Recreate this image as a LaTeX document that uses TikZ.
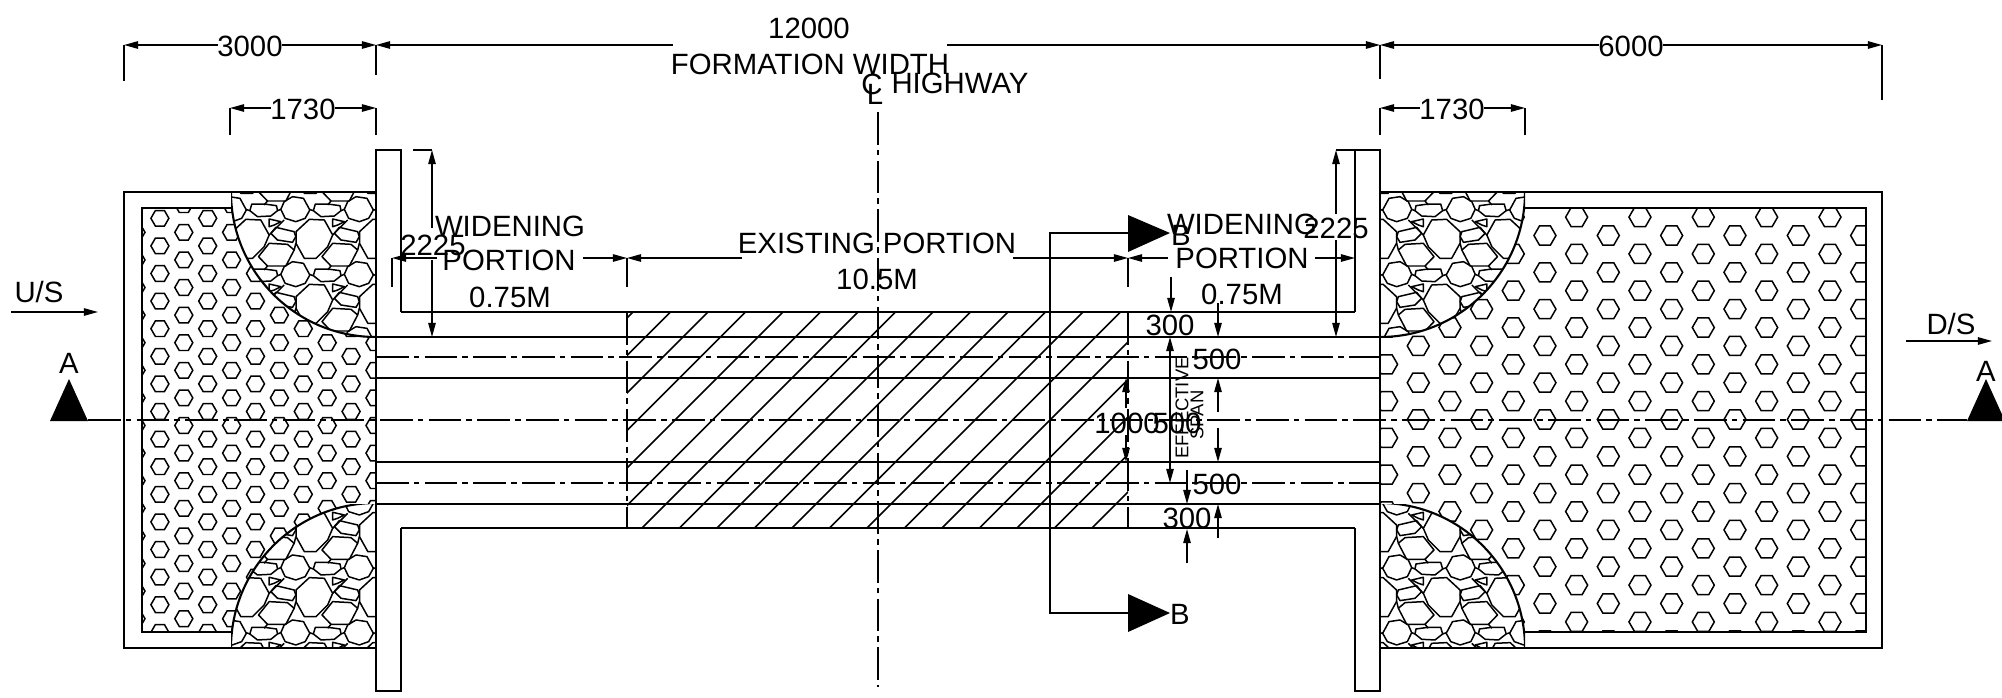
\documentclass[tikz,border=0pt]{standalone}
\usepackage{fontspec}
\setmainfont{Liberation Sans}
\usetikzlibrary{arrows.meta}

\tikzset{
  lbl/.style={inner sep=0pt,yshift=-.6pt,font=\fontsize{16.7}{16.7}\selectfont},
  smalllbl/.style={inner sep=0pt,font=\fontsize{10.5}{10.5}\selectfont,rotate=90},
  wall/.style={line width=1.2pt},
  dimline/.style={line width=.85pt},
  centre/.style={line width=1.1pt,dash pattern=on 18.5pt off 3pt on 3.2pt off 3pt},
  hexline/.style={line width=.85pt},
  rockline/.style={line width=.85pt,line join=round},
  hexcell/.pic={
    \draw[hexline] (-1,0) -- (-.5,.866) -- (.5,.866) -- (1,0) -- (.5,-.866) -- (-.5,-.866) -- cycle;
  },
  rocktile/.pic={
    \draw[rockline] (27,25) -- (60,20) -- (85,35) -- (95,58) -- (82,85) -- (50,95) -- (22,85) -- (8,60) -- cycle;
    \draw[rockline] (108,47) -- (145,42) -- (182,42) -- (188,62) -- (165,80) -- (125,78) -- (105,62) -- cycle;
    \draw[rockline] (155,90) -- (200,88) -- (240,125) -- (240,160) -- (215,205) -- (180,205) -- (145,170) -- (130,135) -- cycle;
    \draw[rockline] (95,95) -- (130,87) -- (130,110) -- (115,105) -- cycle;
    \draw[rockline] (55,125) -- (110,112) -- (125,130) -- (105,150) -- (60,157) -- (50,140) -- cycle;
    \draw[rockline] (55,180) -- (75,163) -- (130,160) -- (162,200) -- (135,228) -- (80,228) -- cycle;
    \draw[rockline] (85,90) -- (130,135);
    \draw[rockline] (95,58) -- (105,62);
    \draw[rockline] (188,62) -- (200,58);
    \draw[rockline] (50,160) -- (55,180);
    \draw[rockline] (135,228) -- (145,240);
  },
}

% quarter circle of stones: centre x, centre y, far x, far y, mirror, first row
\newcommand{\rockcorner}[6]{
  \begin{scope}
    \clip (#1,#2) rectangle (#3,#4);
    \fill[white] (#1,#2) circle [radius=145];
    \begin{scope}
      \clip (#1,#2) circle [radius=145];
      \foreach \tcol in {-1,...,3}
        \foreach \trow in {-2,...,3}
          \pic[xscale=#5,scale=.3333] at ({#1+#5*63.5*\tcol},{#6+65*\trow}) {rocktile};
    \end{scope}
    \draw[wall] (#1,#2) circle [radius=145];
  \end{scope}
}

\begin{document}
\begin{tikzpicture}[x=.02cm,y=-.02cm,>={Triangle[length=8pt,width=4.2pt]}]
  \useasboundingbox (0,0) rectangle (2002,697);

  % hexagon fill, left and right
  \begin{scope}
    \clip (142,208) rectangle (376,632);
    \foreach \col in {0,...,10} {
      \pgfmathsetmacro\hx{136+23.9*\col}
      \pgfmathsetmacro\hy{ifthenelse(isodd(\col),218.3,204.7)}
      \foreach \row in {0,...,15}
        \pic[scale=9] at (\hx,{\hy+27.6*\row}) {hexcell};
    }
  \end{scope}
  \begin{scope}
    \clip (1380,208) rectangle (1866,632);
    \foreach \col in {0,...,15} {
      \pgfmathsetmacro\hx{1386.6+31.67*\col}
      \pgfmathsetmacro\hy{ifthenelse(isodd(\col),198.7,180.3)}
      \foreach \row in {0,...,12}
        \pic[scale=11] at (\hx,{\hy+36.8*\row}) {hexcell};
    }
  \end{scope}

  % stones
  \rockcorner{1380}{192}{1525}{337}{1}{190}
  \rockcorner{1380}{648}{1525}{504}{1}{548.3}
  \rockcorner{376}{192}{231}{337}{-1}{190}
  \rockcorner{376}{648}{231}{504}{-1}{548.3}

  % boxes
  \draw[wall] (376,192) -- (124,192) -- (124,648) -- (376,648);
  \draw[wall] (1380,192) -- (1882,192) -- (1882,648) -- (1380,648);
  \draw[hexline] (231,208) -- (142,208) -- (142,632) -- (231,632);
  \draw[hexline] (1525,208) -- (1866,208) -- (1866,632) -- (1525,632);

  % deck and walls
  \begin{scope}
    \clip (627,312) rectangle (1128,528);
    \foreach \hatch in {0,...,24}
      \draw[dimline] ({1470-37.5*\hatch+300},0) -- ++(-600,600);
  \end{scope}
  \draw[wall] (401,312) -- (401,150) -- (376,150) -- (376,691) -- (401,691) -- (401,528);
  \draw[wall] (1355,312) -- (1355,150) -- (1380,150) -- (1380,691) -- (1355,691) -- (1355,528);
  \draw[wall] (401,312) -- (1355,312);
  \draw[wall] (401,528) -- (1355,528);
  \foreach \ly in {337,378,462,504}
    \draw[wall] (376,\ly) -- (1380,\ly);
  \foreach \ly in {357,483}
    \draw[centre] (376,\ly) -- (1380,\ly);
  \draw[centre] (627,312) -- (627,528);
  \draw[centre] (1128,312) -- (1128,528);
  \draw[centre] (88,420) -- (1967,420);
  \draw[centre] (878,112) -- (878,687);

  % top dimensions
  \draw[dimline] (124,81) -- (124,45);
  \draw[dimline] (376,75) -- (376,45);
  \draw[dimline] (1380,79) -- (1380,45);
  \draw[dimline] (1882,100) -- (1882,45);
  \draw[dimline,<-] (124,45) -- (218,45);
  \draw[dimline,->] (282,45) -- (376,45);
  \draw[dimline,<-] (376,45) -- (673,45);
  \draw[dimline,->] (947,45) -- (1380,45);
  \draw[dimline,<-] (1380,45) -- (1599,45);
  \draw[dimline,->] (1663,45) -- (1882,45);
  \node[lbl] (dimleft) at (250,45) {3000};
  \node[lbl] (dimformation) at (809,27) {12000};
  \node[lbl] (formation) at (810,63) {FORMATION WIDTH};
  \node[lbl] (dimright) at (1631,45) {6000};
  \draw[dimline] (230,135) -- (230,108);
  \draw[dimline] (376,135) -- (376,108);
  \draw[dimline] (1380,135) -- (1380,108);
  \draw[dimline] (1525,135) -- (1525,108);
  \draw[dimline,<-] (230,108) -- (271,108);
  \draw[dimline,->] (335,108) -- (376,108);
  \draw[dimline,<-] (1380,108) -- (1420,108);
  \draw[dimline,->] (1484,108) -- (1525,108);
  \node[lbl] (stoneleft) at (303,108) {1730};
  \node[lbl] (stoneright) at (1452,108) {1730};
  \node[lbl] (clc) at (872,83) {C};
  \node[lbl] (cll) at (875,93) {L};
  \node[lbl] (highway) at (960,82) {HIGHWAY};

  % wall heights
  \draw[dimline] (413,150) -- (432,150);
  \draw[dimline] (413,337) -- (432,337);
  \draw[dimline,<-] (432,150) -- (432,228);
  \draw[dimline,->] (432,260) -- (432,337);
  \node[lbl] (heightleft) at (433,244) {2225};
  \draw[dimline] (1336,150) -- (1355,150);
  \draw[dimline,<-] (1336,150) -- (1336,214);
  \draw[dimline,->] (1336,240) -- (1336,337);
  \node[lbl] (heightright) at (1336,227) {2225};

  % portions
  \foreach \tx in {392,627,1128,1355}
    \draw[dimline] (\tx,258) -- (\tx,287);
  \draw[dimline,<-] (392,258) -- (437,258);
  \draw[dimline,->] (583,258) -- (627,258);
  \draw[dimline,<-] (627,258) -- (742,258);
  \draw[dimline,->] (1013,258) -- (1128,258);
  \draw[dimline,<-] (1128,258) -- (1168,258);
  \draw[dimline,->] (1315,258) -- (1355,258);
  \node[lbl] (widenleft) at (510,225) {WIDENING};
  \node[lbl] (portionleft) at (509,259) {PORTION};
  \node[lbl] (sizeleft) at (510,296) {0.75M};
  \node[lbl] (existing) at (877,242) {EXISTING PORTION};
  \node[lbl] (sizeexisting) at (877,278) {10.5M};
  \node[lbl] (widenright) at (1242,223) {WIDENING};
  \node[lbl] (portionright) at (1242,257) {PORTION};
  \node[lbl] (sizeright) at (1242,293) {0.75M};

  % section B
  \draw[wall] (1128,233) -- (1050,233) -- (1050,613) -- (1128,613);
  \fill (1128,215) -- (1170,233) -- (1128,252) -- cycle;
  \fill (1128,594) -- (1170,613) -- (1128,632) -- cycle;
  \node[lbl] (secbtop) at (1181,234) {B};
  \node[lbl] (secbbot) at (1180,613) {B};

  % section A
  \fill (50,421) -- (69,379) -- (88,421) -- cycle;
  \fill (1967,421) -- (1986,379) -- (2005,421) -- cycle;
  \node[lbl] (secaleft) at (69,362) {A};
  \node[lbl] (secaright) at (1986,370) {A};

  % flow
  \draw[dimline,->] (11,312) -- (98,312);
  \draw[dimline,->] (1906,341) -- (1992,341);
  \node[lbl] (upstream) at (39,291) {U/S};
  \node[lbl] (downstream) at (1951,323) {D/S};

  % depth dimensions
  \draw[dimline,->] (1171,277) -- (1171,312);
  \draw[dimline,->] (1218,303) -- (1218,337);
  \draw[dimline,<->] (1170,337) -- (1170,483);
  \draw[dimline,->] (1218,412) -- (1218,378);
  \draw[dimline,->] (1218,428) -- (1218,462);
  \draw[dimline,->] (1126,408) -- (1126,378);
  \draw[dimline,->] (1126,435) -- (1126,462);
  \draw[dimline,->] (1187,470) -- (1187,504);
  \draw[dimline,->] (1187,563) -- (1187,529);
  \draw[dimline,->] (1218,538) -- (1218,504);
  \node[lbl] (deckup) at (1170,324) {300};
  \node[lbl] (slabup) at (1217,358) {500};
  \node[lbl] (span) at (1127,422) {1000};
  \node[lbl] (midspan) at (1177,422) {500};
  \node[lbl] (slabdown) at (1217,483) {500};
  \node[lbl] (deckdown) at (1187,517) {300};
  \node[smalllbl] (effective) at (1182,408) {EFFECTIVE};
  \node[smalllbl] (effspan) at (1197,415) {SPAN};
\end{tikzpicture}
\end{document}
